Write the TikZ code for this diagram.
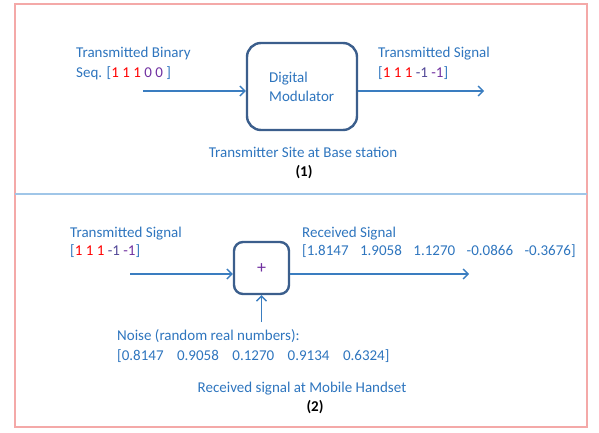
\documentclass[tikz,border=0pt]{standalone}
\usepackage{fontspec}
\setmainfont{Carlito}
\usetikzlibrary{arrows.meta}
\definecolor{txtblue}{RGB}{46,117,190}
\definecolor{arrblue}{RGB}{58,125,192}
\definecolor{boxblue}{RGB}{59,94,140}
\definecolor{framepink}{RGB}{244,169,168}
\definecolor{divblue}{RGB}{160,198,232}
\definecolor{nred}{RGB}{255,0,0}
\definecolor{npurple}{RGB}{112,48,160}
\definecolor{nslate}{RGB}{80,70,150}
\tikzset{
  lbl/.style={anchor=base west, inner sep=0pt, font=\fontsize{15}{18}\selectfont, text=txtblue},
  clbl/.style={anchor=base, inner sep=0pt, font=\fontsize{15}{18}\selectfont, text=txtblue},
  num/.style={anchor=base, inner sep=0pt, font=\fontsize{15}{18}\selectfont\bfseries, text=black},
  flow/.style={draw=arrblue, line width=1.4pt, -{Straight Barb[length=5pt,width=10pt,line width=1.4pt]}},
  blk/.style={draw=boxblue, line width=2.4pt, fill=white, inner sep=0pt},
}
\newcommand{\nrd}[1]{\textcolor{nred}{#1}}
\newcommand{\npu}[1]{\textcolor{npurple}{#1}}
\newcommand{\nsl}[1]{\textcolor{nslate}{#1}}
\newcommand{\ngap}{\hspace{11.5pt}}
\newcommand{\zgap}{\hspace{13.5pt}}
\begin{document}
\begin{tikzpicture}[x=1pt,y=-1pt]
\useasboundingbox (0,0) rectangle (599,433);
% frame and divider
\draw[framepink, line width=1.5pt] (15,4) rectangle (587,427);
\draw[divblue, line width=1.5pt] (15,194) -- (587,194);
% ---- part 1
\node[blk, rounded corners=14pt, minimum width=110pt, minimum height=87pt] (mod) at (302,86.5) {};
\node[lbl] (dig) at (269,83) {Digital};
\node[lbl] (modu) at (269,102) {Modulator};
\coordinate (in1) at (143,91);
\coordinate (out1) at (484,91);
\draw[flow] (in1) -- (in1 -| mod.west);
\draw[flow] (out1 -| mod.east) -- (out1);
\node[lbl] (tb) at (76,58) {Transmitted Binary};
\node[lbl] (seq) at (76,78) {Seq. [\nrd{1 1 1} \npu{0 0} ]};
\node[lbl] (ts1) at (378,58) {Transmitted Signal};
\node[lbl] (tsv1) at (378,78) {[\nrd{1 1 1} \nsl{-1} \npu{-1}]};
\node[clbl] (site) at (303,157) {Transmitter Site at Base station};
\node[num] (one) at (304,176) {(1)};
% ---- part 2
\node[blk, rounded corners=9pt, minimum width=55pt, minimum height=52pt] (plus) at (261.5,268) {};
\node[inner sep=0pt, font=\fontsize{18}{20}\selectfont, text=npurple] (plussign) at (261.5,269) {+};
\coordinate (in2) at (130,274);
\coordinate (out2) at (469,274);
\coordinate (noise) at (261.5,322);
\draw[flow] (in2) -- (in2 -| plus.west);
\draw[flow] (out2 -| plus.east) -- (out2);
\draw[flow] (noise) -- (noise |- plus.south);
\node[lbl] (ts2) at (70,237) {Transmitted Signal};
\node[lbl] (tsv2) at (70,255) {[\nrd{1 1 1} \nsl{-1} \npu{-1}]};
\node[lbl] (rs) at (302,237) {Received Signal};
\node[lbl] (rsv) at (302,255) {[1.8147\ngap 1.9058\ngap 1.1270\ngap -0.0866\ngap -0.3676]};
\node[lbl] (nz) at (117,340) {Noise (random real numbers):};
\node[lbl] (nzv) at (117,360) {[0.8147\zgap 0.9058\zgap 0.1270\zgap 0.9134\zgap 0.6324]};
\node[clbl] (mh) at (302,392) {Received signal at Mobile Handset};
\node[num] (two) at (315,411) {(2)};
\end{tikzpicture}
\end{document}
